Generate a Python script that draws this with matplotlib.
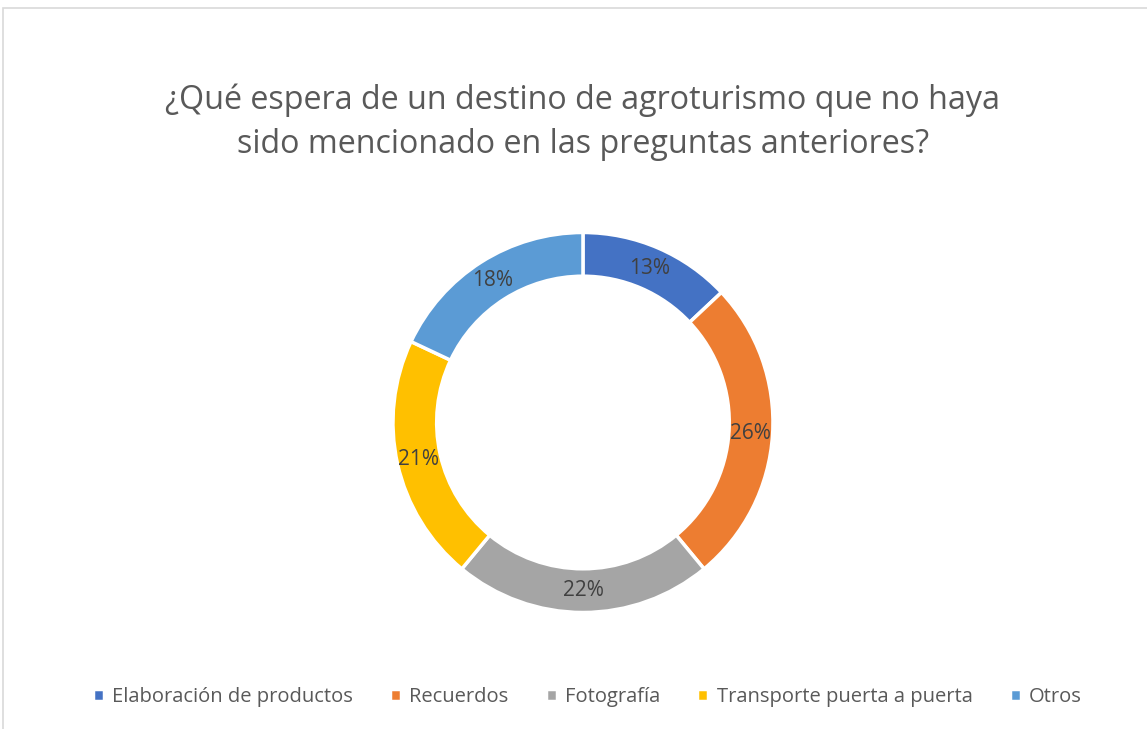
import matplotlib.pyplot as plt
from matplotlib.patches import Rectangle

categorias = ['Elaboración de productos', 'Recuerdos', 'Fotografía',
              'Transporte puerta a puerta', 'Otros']
porcentajes = [13, 26, 22, 21, 18]
colores = ['#4472C4', '#ED7D31', '#A5A5A5', '#FFC000', '#5B9BD5']

plt.rcParams['font.family'] = ['Open Sans', 'DejaVu Sans']

fig = plt.figure(figsize=(11.47, 7.29), dpi=100)

# light grey chart-area border
fig.patches.append(Rectangle((3 / 1147, -0.01), 1.02, 1 - 8 / 729 + 0.01,
                             transform=fig.transFigure, fill=False,
                             edgecolor='#D9D9D9', linewidth=1.2))

ax = fig.add_axes([0.3426, 0.1598, 0.3313, 0.5213])
wedges, texts, autotexts = ax.pie(
    porcentajes, colors=colores, startangle=90, counterclock=False,
    radius=1, autopct='%d%%', pctdistance=0.885,
    wedgeprops=dict(width=0.23, edgecolor='white', linewidth=2.5),
    textprops=dict(color='#404040', fontsize=15))
ax.set_aspect('equal')
ax.set_xlim(-1, 1)
ax.set_ylim(-1, 1)

fig.text(0.508, 1 - 122 / 729,
         '¿Qué espera de un destino de agroturismo que no haya\nsido mencionado en las preguntas anteriores?',
         ha='center', va='center', fontsize=23.2, color='#595959', linespacing=1.45)

fig.legend(wedges, categorias, loc='center', bbox_to_anchor=(0.512, 1 - 697 / 729),
           ncol=5, frameon=False, fontsize=14.5, labelcolor='#595959',
           handlelength=0.55, handleheight=0.55, handletextpad=0.4, columnspacing=1.85)

fig.savefig('out.png', dpi=100)
